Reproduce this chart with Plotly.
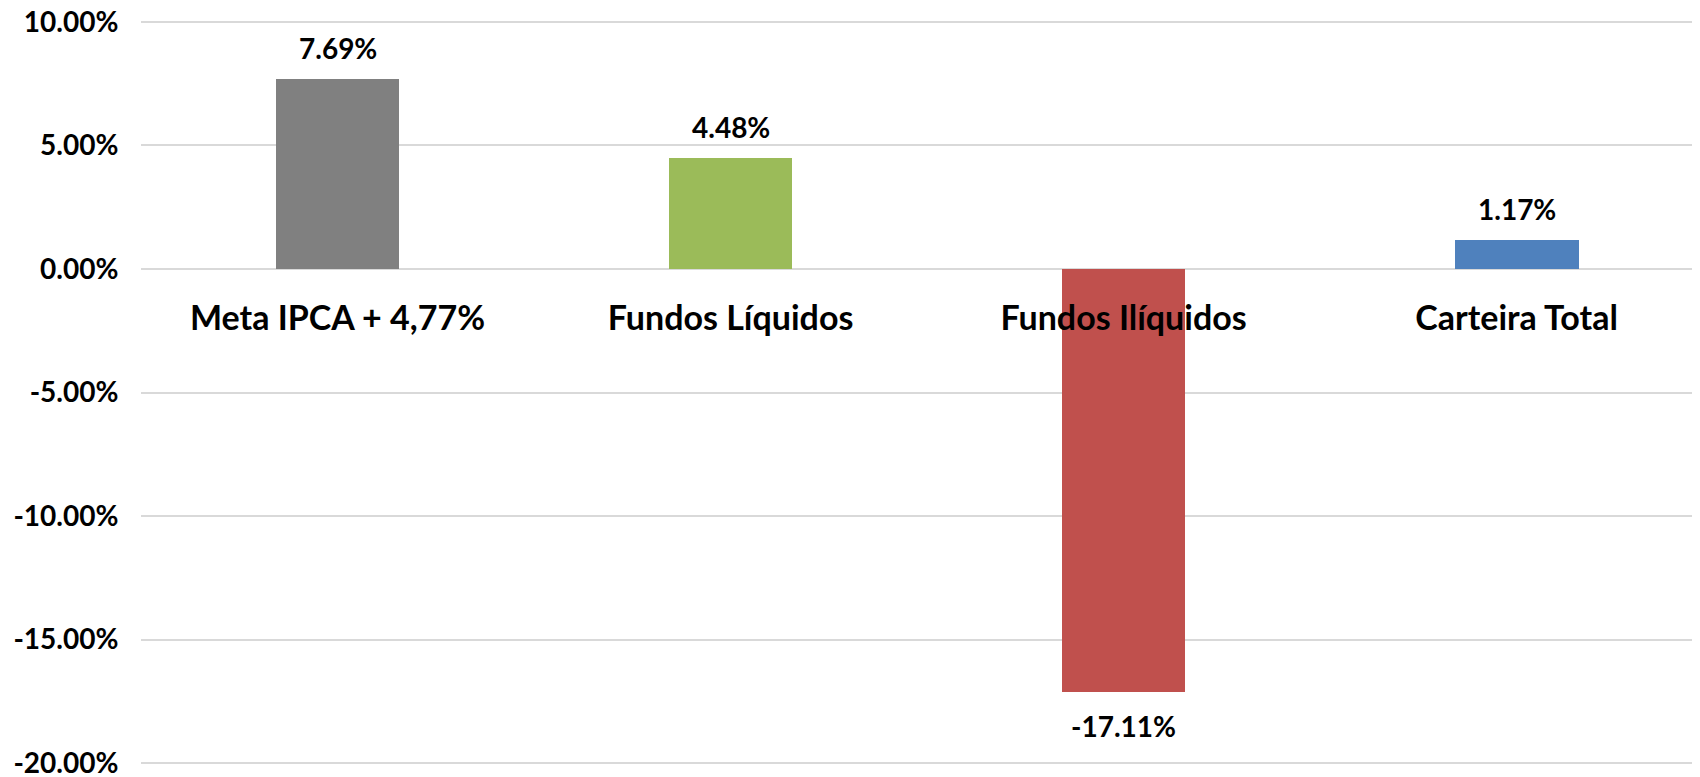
import plotly.graph_objects as go

# %%

CATEGORIES = ["Meta IPCA + 4,77%", "Fundos Líquidos", "Fundos Ilíquidos", "Carteira Total"]
VALUES = [7.69, 4.48, -17.11, 1.17]
COLORS = ["#808080", "#9BBB59", "#C0504D", "#4F81BD"]
Y_TICKS = [10, 5, 0, -5, -10, -15, -20]

FONT = "Lato"

Y_MIN, Y_MAX = -20.4, 10.4

# %%

fig = go.Figure()

fig.add_trace(
    go.Bar(
        x=CATEGORIES,
        y=VALUES,
        marker=dict(color=COLORS, line=dict(width=0)),
        width=0.315,
        showlegend=False,
        hoverinfo="skip",
    )
)

# data labels above / below the bars
for cat, val in zip(CATEGORIES, VALUES):
    fig.add_annotation(
        x=cat,
        y=val,
        xref="x",
        yref="y",
        text=f"{val:.2f}%",
        showarrow=False,
        yanchor="bottom" if val >= 0 else "top",
        yshift=12 if val >= 0 else -15,
        font=dict(family=FONT, size=28, color="black", weight="bold"),
    )

# zero line in paper coordinates of the y domain
zero_pos = (0 - Y_MIN) / (Y_MAX - Y_MIN)

fig.update_layout(
    width=1700,
    height=777,
    margin=dict(l=133, r=0, t=4, b=12),
    plot_bgcolor="white",
    paper_bgcolor="white",
    bargap=0,
    xaxis=dict(
        range=[-0.5, 3.487],
        anchor="free",
        position=zero_pos,
        showgrid=False,
        showline=False,
        zeroline=False,
        automargin=False,
        ticks="outside",
        ticklen=0,
        ticklabelstandoff=19,
        tickfont=dict(family=FONT, size=34, color="black", weight="bold"),
    ),
    yaxis=dict(
        range=[Y_MIN, Y_MAX],
        tickvals=Y_TICKS,
        ticktext=[f"{t:.2f}%" for t in Y_TICKS],
        showgrid=True,
        gridcolor="#D9D9D9",
        gridwidth=2,
        zeroline=False,
        showline=False,
        automargin=False,
        ticks="outside",
        ticklen=0,
        ticklabelstandoff=16,
        ticklabeloverflow="allow",
        tickfont=dict(family=FONT, size=28, color="black", weight="bold"),
    ),
)

fig.write_html("out.html")
